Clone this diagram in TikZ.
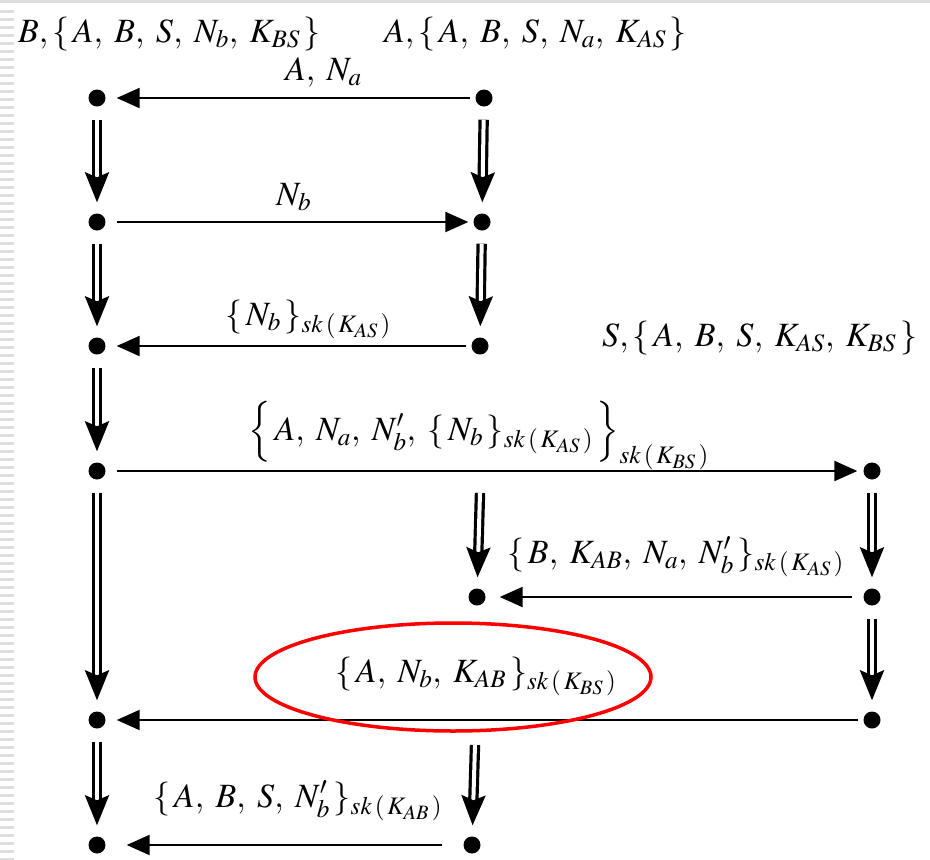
\documentclass[tikz,border=0pt]{standalone}
\usepackage{mathptmx}
\usetikzlibrary{arrows.meta}
\newcommand\cs{,\;}
\newcommand\lb{\{\,}
\newcommand\rb{\,\}}
\newcommand\skk[1]{sk\,(\,K_{#1}\,)}
\begin{document}
\begin{tikzpicture}[x=1pt,y=-1pt,
  dot/.style={circle,fill=black,inner sep=0pt,minimum size=17pt},
  msg/.style={line width=2.2pt,-{Triangle[length=23pt,width=20pt]}},
  flow/.style={double,double distance=4pt,line width=3.2pt,shorten >=11pt,-{Stealth[length=30pt,width=24pt,inset=5pt]}},
  flowd/.style={flow,shorten <=13pt},
  lbl/.style={anchor=base west,inner sep=0pt,font=\fontsize{34}{40}\selectfont},
  oval/.style={draw=red,line width=3.5pt}
]
\useasboundingbox (0,0) rectangle (930,860);
% slide decoration
\fill[gray!25] (0,0) rectangle (930,3);
\foreach \yy in {10,18,...,858} \fill[gray!25] (0,\yy) rectangle (14,\yy+2.5);

% dots
\node[dot] (l1) at (97,98) {};
\node[dot] (m1) at (484,98) {};
\node[dot] (l2) at (97,222) {};
\node[dot] (m2) at (482,222) {};
\node[dot] (l3) at (97,346) {};
\node[dot] (m3) at (480,346) {};
\node[dot] (l4) at (97,471) {};
\node[dot] (r4) at (872,471) {};
\node[dot] (m5) at (477,597) {};
\node[dot] (r5) at (872,597) {};
\node[dot] (l6) at (97,720) {};
\node[dot] (r6) at (872,720) {};
\node[dot] (l7) at (97,845) {};
\node[dot] (m7) at (472,845) {};
\coordinate (c5) at (480,493);
\coordinate (c7) at (475,745);

% labels
\node[lbl] (tB) at (18,42) {$B,\lb A\cs B\cs S\cs N_b\cs K_{BS}\rb$};
\node[lbl] (tA) at (384,42) {$A,\lb A\cs B\cs S\cs N_a\cs K_{AS}\rb$};
\node[lbl] (tS) at (602,346) {$S,\lb A\cs B\cs S\cs K_{AS}\cs K_{BS}\rb$};
\node[lbl] (m1lbl) at (285,80) {$A\cs N_a$};
\node[lbl] (m2lbl) at (276,205) {$N_b$};
\node[lbl] (m3lbl) at (225,325) {$\lb N_b\rb_{\skk{AS}}$};
\node[lbl] (m4lbl) at (248,440) {$\Bigl\{\,A\cs N_a\cs N_b'\cs \lb N_b\rb_{\skk{AS}}\,\Bigr\}_{\skk{BS}}$};
\node[lbl] (m5lbl) at (507,563) {$\lb B\cs K_{AB}\cs N_a\cs N_b'\rb_{\skk{AS}}$};
\node[lbl] (m6lbl) at (335,682) {$\lb A\cs N_b\cs K_{AB}\rb_{\skk{BS}}$};
\node[lbl] (m7lbl) at (153,807) {$\lb A\cs B\cs S\cs N_b'\rb_{\skk{AB}}$};

% messages
\draw[msg,shorten <=5pt,shorten >=11pt] (m1) -- (l1);
\draw[msg,shorten <=11pt,shorten >=5pt] (l2) -- (m2);
\draw[msg,shorten <=5pt,shorten >=11pt] (m3) -- (l3);
\draw[msg,shorten <=11pt,shorten >=6pt] (l4) -- (r4);
\draw[msg,shorten <=11pt,shorten >=14pt] (r5) -- (m5);
\draw[msg,shorten <=5pt,shorten >=11pt] (r6) -- (l6);
\draw[msg,shorten <=21pt,shorten >=21pt] (m7) -- (l7);

% state progressions
\draw[flowd] (l1) -- (l2);
\draw[flowd] (l2) -- (l3);
\draw[flowd] (l3) -- (l4);
\draw[flowd] (l4) -- (l6);
\draw[flowd] (l6) -- (l7);
\draw[flowd] (m1) -- (m2);
\draw[flowd] (m2) -- (m3);
\draw[flow] (c5) -- (m5);
\draw[flowd] (r4) -- (r5);
\draw[flowd] (r5) -- (r6);
\draw[flow] (c7) -- (m7);

% highlight
\draw[oval] (453,677) ellipse [x radius=198, y radius=54];
\end{tikzpicture}
\end{document}
